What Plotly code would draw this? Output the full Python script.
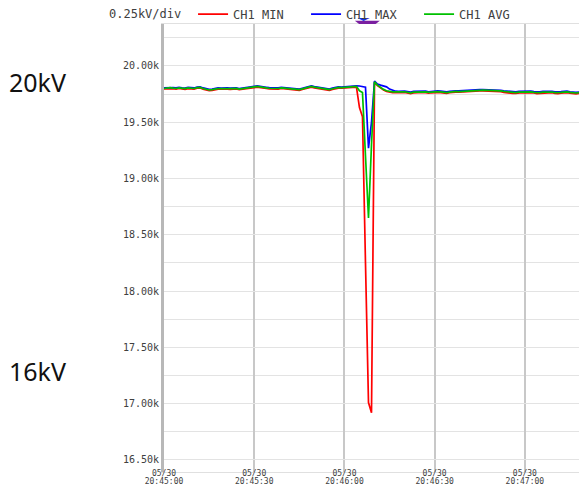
import pandas as pd
import plotly.graph_objects as go

# one reading per second, starting at 20:45:00
start_time = "2023-05-30 20:45:00"
end_time = "2023-05-30 20:47:18"
n_samples = 139

ch1_min = [
    19796, 19797, 19803, 19798, 19795, 19800, 19796, 19793, 19799, 19797, 19794,
    19803, 19804, 19794, 19784, 19780, 19784, 19792, 19795, 19794, 19796,
    19795, 19792, 19795, 19796, 19789, 19794, 19798, 19800, 19806, 19808,
    19812, 19806, 19802, 19800, 19796, 19794, 19795, 19794, 19800, 19797,
    19794, 19791, 19790, 19785, 19783, 19791, 19800, 19806, 19812, 19806,
    19802, 19797, 19793, 19786, 19784, 19792, 19800, 19804, 19802, 19805,
    19809, 19812, 19810,
    19812, 19630, 19550, 18250, 17010, 16920, 19855,
    19825, 19802, 19786, 19774, 19766, 19764,
    19764, 19762, 19764, 19765, 19760, 19755, 19760, 19764, 19764, 19766, 19764, 19758, 19762, 19765,
    19766, 19764, 19759, 19757, 19762, 19766, 19768, 19767, 19769, 19772, 19776, 19778, 19777, 19779, 19778,
    19779, 19778, 19780, 19778, 19777, 19776, 19771, 19766, 19762, 19760, 19757, 19757, 19762, 19764, 19760,
    19762, 19764, 19760, 19755, 19757, 19762, 19764, 19765, 19763, 19757, 19754, 19759, 19762, 19764, 19758, 19755, 19753, 19757,
]

ch1_max = [
    19805, 19807, 19812, 19808, 19805, 19811, 19806, 19804, 19810, 19807, 19805,
    19813, 19815, 19805, 19795, 19792, 19795, 19803, 19805, 19804, 19806,
    19805, 19803, 19805, 19806, 19800, 19805, 19808, 19810, 19817, 19819,
    19823, 19817, 19813, 19811, 19807, 19805, 19806, 19805, 19811, 19808,
    19805, 19803, 19802, 19797, 19795, 19802, 19811, 19817, 19823, 19817,
    19813, 19808, 19804, 19797, 19795, 19803, 19811, 19815, 19813, 19816,
    19820, 19823, 19821,
    19823, 19822, 19818, 19812, 19270, 19500, 19865,
    19840, 19830, 19820, 19815, 19795, 19782,
    19776, 19774, 19776, 19777, 19773, 19768, 19774, 19776, 19776, 19778, 19776, 19771, 19774, 19777,
    19778, 19776, 19772, 19770, 19774, 19778, 19780, 19779, 19781, 19784, 19788, 19790, 19789, 19791, 19790,
    19791, 19790, 19792, 19790, 19789, 19788, 19784, 19780, 19776, 19774, 19771, 19770, 19774, 19776, 19773,
    19774, 19776, 19772, 19768, 19770, 19774, 19776, 19777, 19775, 19770, 19768, 19772, 19774, 19776, 19771, 19768, 19766, 19769,
]

ch1_avg = [
    19800, 19802, 19808, 19803, 19800, 19806, 19801, 19799, 19805, 19802, 19800,
    19808, 19810, 19800, 19790, 19787, 19790, 19798, 19800, 19799, 19801,
    19800, 19798, 19800, 19801, 19795, 19800, 19803, 19805, 19812, 19814,
    19818, 19812, 19808, 19806, 19802, 19800, 19801, 19800, 19806, 19803,
    19800, 19798, 19797, 19792, 19790, 19797, 19806, 19812, 19818, 19812,
    19808, 19803, 19799, 19792, 19790, 19798, 19806, 19810, 19808, 19811,
    19815, 19818, 19816,
    19818, 19780, 19765, 19200, 18650, 19300, 19860,
    19830, 19808, 19792, 19780, 19772, 19770,
    19770, 19768, 19770, 19771, 19767, 19762, 19768, 19770, 19770, 19772, 19770, 19765, 19768, 19771,
    19772, 19770, 19766, 19764, 19768, 19772, 19774, 19773, 19775, 19778, 19782, 19784, 19783, 19785, 19784,
    19785, 19784, 19786, 19784, 19783, 19782, 19778, 19774, 19770, 19768, 19765, 19764, 19768, 19770, 19767,
    19768, 19770, 19766, 19762, 19764, 19768, 19770, 19771, 19769, 19764, 19762, 19766, 19768, 19770, 19765, 19762, 19760, 19763,
]

series_names = ["CH1 MIN", "CH1 MAX", "CH1 AVG"]
series_colors = ["#ff0000", "#0000ff", "#00c000"]
series_xaxes = ["x", "x", "x2"]
scale_text = "0.25kV/div"

times = pd.date_range(start_time, periods=n_samples, freq="1s")

fig = go.Figure()
for name, vals, col, xa in zip(series_names, [ch1_min, ch1_max, ch1_avg],
                               series_colors, series_xaxes):
    fig.add_trace(go.Scatter(
        x=times, y=vals, name=name, mode="lines", xaxis=xa, yaxis="y",
        line=dict(color=col, width=1.7),
    ))

mono = "DejaVu Sans Mono"
text_col = "#404040"

time_axis = dict(
    type="date", range=[start_time, end_time],
    tick0=start_time, dtick=30000, ticks="", zeroline=False, automargin=False,
    tickfont=dict(family=mono, size=8, color=text_col),
)

fig.update_layout(
    width=579, height=486,
    margin=dict(l=164, r=0, t=24, b=14, autoexpand=False),
    paper_bgcolor="white", plot_bgcolor="white",
    showlegend=True,
    legend=dict(
        orientation="h", x=0.070, xanchor="left", y=1.022, yanchor="middle",
        font=dict(family=mono, size=12, color=text_col),
        bgcolor="rgba(0,0,0,0)", itemwidth=30,
        entrywidth=68, entrywidthmode="pixels",
    ),
    # date line of the tick labels
    xaxis=dict(
        **time_axis,
        tickformat="%m/%d", ticklabelstandoff=-7,
        showgrid=True, gridcolor="#c8c8c8", gridwidth=2,
        showline=True, linecolor="#e0e0e0", linewidth=1, mirror=True,
    ),
    # time-of-day line of the tick labels
    xaxis2=dict(
        **time_axis,
        overlaying="x", side="bottom", matches="x",
        tickformat="%H:%M:%S", ticklabelstandoff=3,
        showgrid=False, showline=False,
    ),
    yaxis=dict(
        range=[16393, 20373],
        tick0=0, dtick=500,
        tickformat=".4s",
        tickfont=dict(family=mono, size=10, color=text_col),
        showgrid=True, gridcolor="#e3e3e3", gridwidth=1,
        minor=dict(dtick=250, tick0=0, showgrid=True, gridcolor="#e3e3e3", gridwidth=1),
        showline=True, linecolor="#b8b8b8", linewidth=3,
        zeroline=False, ticks="", automargin=False,
    ),
)

# scale note in front of the legend
fig.add_annotation(text=scale_text, xref="paper", yref="paper", x=-0.1373, y=1.0223,
                   xanchor="left", yanchor="middle", showarrow=False,
                   font=dict(family=mono, size=12, color=text_col))

# event cursor above the plot
fig.add_shape(type="path", xref="paper", yref="paper",
              path="M 0.460 1.0074 L 0.520 1.0074 L 0.510 1.0 L 0.470 1.0 Z",
              fillcolor="#7a1fa0", line=dict(width=0))
fig.add_shape(type="path", xref="paper", yref="paper",
              path="M 0.466 1.0134 L 0.496 1.0134 L 0.481 1.0067 Z",
              fillcolor="#1030e8", line=dict(width=0))

label_font = dict(family="Noto Sans", size=25, color="#111111")
fig.add_annotation(text="20kV", xref="paper", yref="paper", x=-0.378, y=0.871,
                   xanchor="left", yanchor="middle", showarrow=False, font=label_font)
fig.add_annotation(text="16kV", xref="paper", yref="paper", x=-0.378, y=0.226,
                   xanchor="left", yanchor="middle", showarrow=False, font=label_font)

fig.write_html("out.html")
